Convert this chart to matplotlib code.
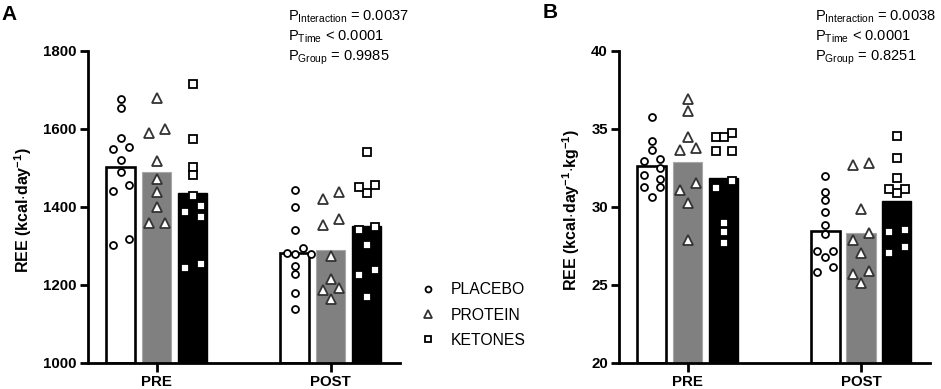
import numpy as np
import matplotlib
matplotlib.use('Agg')
import matplotlib.pyplot as plt
from matplotlib.lines import Line2D

plt.rcParams['font.family'] = ['Liberation Sans', 'DejaVu Sans']
plt.rcParams['mathtext.fontset'] = 'custom'
plt.rcParams['mathtext.rm'] = 'Liberation Sans'
plt.rcParams['mathtext.bf'] = 'Liberation Sans:bold'
plt.rcParams['mathtext.it'] = 'Liberation Sans:italic'
plt.rcParams['mathtext.sf'] = 'Liberation Sans'

# ---------------- data ----------------
timepoints = ['PRE', 'POST']
groups = ['PLACEBO', 'PROTEIN', 'KETONES']

# Panel A: REE (kcal/day)
a_placebo_pre = [1676, 1652, 1576, 1547, 1554, 1521, 1490, 1440, 1456, 1303, 1318]
a_protein_pre = [1680, 1590, 1600, 1516, 1470, 1438, 1398, 1357, 1359]
a_ketones_pre = [1714, 1573, 1503, 1482, 1427, 1402, 1386, 1374, 1244, 1253]
a_placebo_post = [1442, 1398, 1340, 1280, 1279, 1281, 1293, 1249, 1227, 1178, 1138]
a_protein_post = [1438, 1419, 1368, 1354, 1274, 1215, 1192, 1186, 1164]
a_ketones_post = [1541, 1436, 1450, 1456, 1340, 1349, 1303, 1225, 1238, 1169]

# Panel B: REE (kcal/day/kg)
b_placebo_pre = [35.77, 34.23, 33.63, 32.91, 33.06, 32.46, 32.03, 31.77, 31.26, 31.24, 30.64]
b_protein_pre = [36.88, 36.15, 34.44, 33.63, 33.76, 31.07, 31.50, 30.21, 27.86]
b_ketones_pre = [34.44, 34.70, 34.44, 33.57, 33.57, 31.65, 31.18, 28.93, 28.40, 27.65]
b_placebo_post = [31.99, 30.94, 30.43, 29.68, 28.80, 28.23, 27.18, 27.18, 26.75, 26.15, 25.83]
b_protein_post = [32.67, 32.78, 29.83, 28.29, 27.86, 27.01, 25.90, 25.66, 25.09]
b_ketones_post = [34.53, 33.14, 31.82, 31.15, 30.90, 31.11, 28.35, 28.50, 27.39, 27.01]

a_ylim = (1000, 1800)
a_yticks = [1000, 1200, 1400, 1600, 1800]
b_ylim = (20, 40)
b_yticks = [20, 25, 30, 35, 40]

a_ptext = [r'P$_{\mathrm{Interaction}}$ = 0.0037', r'P$_{\mathrm{Time}}$ < 0.0001',
           r'P$_{\mathrm{Group}}$ = 0.9985']
b_ptext = [r'P$_{\mathrm{Interaction}}$ = 0.0038', r'P$_{\mathrm{Time}}$ < 0.0001',
           r'P$_{\mathrm{Group}}$ = 0.8251']

a_ylabel = r'REE (kcal$\mathbf{\cdot}$day$^{\mathbf{-1}}$)'
b_ylabel = r'REE (kcal$\mathbf{\cdot}$day$^{\mathbf{-1}}$$\mathbf{\cdot}$kg$^{\mathbf{-1}}$)'

# ---------------- styles ----------------
bar_face = ['white', '#808080', 'black']
bar_edge = ['black', '#a8a8a8', 'black']
bar_lw = [1.9, 0.8, 1.0]
markers = ['o', '^', 's']
msizes = [5.0, 6.6, 5.2]
medge = ['black', '#333333', 'black']
offsets = [-0.207, 0.0, 0.207]
bar_w = 0.168

W, H = 941, 389
fig = plt.figure(figsize=(W / 100, H / 100), dpi=100)


def swarm(values, px_x, px_y, step_px=8.0, diam_px=7.9):
    """Scatter-dot layout: isolated points stay centred, clusters of
    overlapping points are spread sideways in steps."""
    values = np.asarray(values, dtype=float)
    order = np.argsort(-values, kind='stable')
    ypx = values * px_y
    # chain clusters of vertically overlapping points
    clusters = [[order[0]]]
    for a, b in zip(order[:-1], order[1:]):
        if ypx[a] - ypx[b] < diam_px:
            clusters[-1].append(b)
        else:
            clusters.append([b])
    cands = [step_px, -step_px, 0.0]
    for m in range(2, 6):
        cands += [m * step_px, -m * step_px]
    offs = np.zeros(len(values))
    for cl in clusters:
        if len(cl) == 1:
            continue
        placed = []
        for i in cl:
            chosen = cands[-1]
            for c in cands:
                if all((c - px) ** 2 + (ypx[i] - py) ** 2 >= diam_px ** 2 for px, py in placed):
                    chosen = c
                    break
            placed.append((chosen, ypx[i]))
            offs[i] = chosen / px_x
    return offs


def panel(left_px, right_px, data, ylim, yticks, ylabel, label_x, ptext, ptext_x, letter, letter_x, letter_y):
    ax = fig.add_axes([left_px / W, (H - 362.7) / H, (right_px - left_px) / W, (362.7 - 50.7) / H])
    ax.set_xlim(-0.397, 1.398)
    ax.set_ylim(*ylim)
    for s in ['top', 'right']:
        ax.spines[s].set_visible(False)
    for s in ['left', 'bottom']:
        ax.spines[s].set_linewidth(2.0)
    ax.set_yticks(yticks)
    ax.set_xticks([0, 1])
    ax.set_xticklabels(timepoints)
    ax.tick_params(axis='y', width=2.0, length=6, labelsize=10.8, pad=2)
    ax.tick_params(axis='x', width=2.0, length=6.5, labelsize=10.8, pad=2)
    for lab in ax.get_xticklabels() + ax.get_yticklabels():
        lab.set_fontweight('bold')
    ax.set_ylabel(ylabel, fontsize=11.5, fontweight='bold')
    ax.yaxis.set_label_coords(label_x, 0.49)

    p0 = ax.transData.transform((0, 0))
    p1 = ax.transData.transform((1, 1))
    px_x = p1[0] - p0[0]
    px_y = p1[1] - p0[1]

    for t in range(2):
        for g in range(3):
            vals = np.asarray(data[t][g], dtype=float)
            xc = t + offsets[g]
            ax.bar(xc, vals.mean() - ylim[0], bottom=ylim[0], width=bar_w, color=bar_face[g],
                   edgecolor=bar_edge[g], linewidth=bar_lw[g], zorder=1)
            offs = swarm(vals, px_x, px_y)
            ax.plot(xc + offs, vals, linestyle='none', marker=markers[g], markersize=msizes[g],
                    markerfacecolor='white', markeredgecolor=medge[g], markeredgewidth=1.3,
                    zorder=3, clip_on=False)

    for i, s in enumerate(ptext):
        fig.text(ptext_x / W, 1 - (20.5 + 20 * i) / H, s, fontsize=10.5, fontweight='normal',
                 ha='left', va='baseline')
    fig.text(letter_x / W, 1 - letter_y / H, letter, fontsize=15, fontweight='bold',
             ha='left', va='baseline')
    return ax


axA = panel(87.7, 400, [[a_placebo_pre, a_protein_pre, a_ketones_pre],
                         [a_placebo_post, a_protein_post, a_ketones_post]],
            a_ylim, a_yticks, a_ylabel, -0.172, a_ptext, 287.5, 'A', 1.5, 20.5)
axB = panel(619, 930, [[b_placebo_pre, b_protein_pre, b_ketones_pre],
                        [b_placebo_post, b_protein_post, b_ketones_post]],
            b_ylim, b_yticks, b_ylabel, -0.118, b_ptext, 815, 'B', 543, 18.5)

handles = [Line2D([], [], linestyle='none', marker=markers[g], markersize=msizes[g] * 0.85,
                  markerfacecolor='white', markeredgecolor=medge[g], markeredgewidth=1.3)
           for g in range(3)]
fs_leg = 11.3
fig.legend(handles, groups, loc='upper left', bbox_to_anchor=(420 / W, 1 - 282.5 / H),
           bbox_transform=fig.transFigure, frameon=False, fontsize=fs_leg,
           handlelength=1.0, handletextpad=0.95, labelspacing=0.64, borderpad=0, borderaxespad=0)

fig.savefig('out.png', dpi=100)
